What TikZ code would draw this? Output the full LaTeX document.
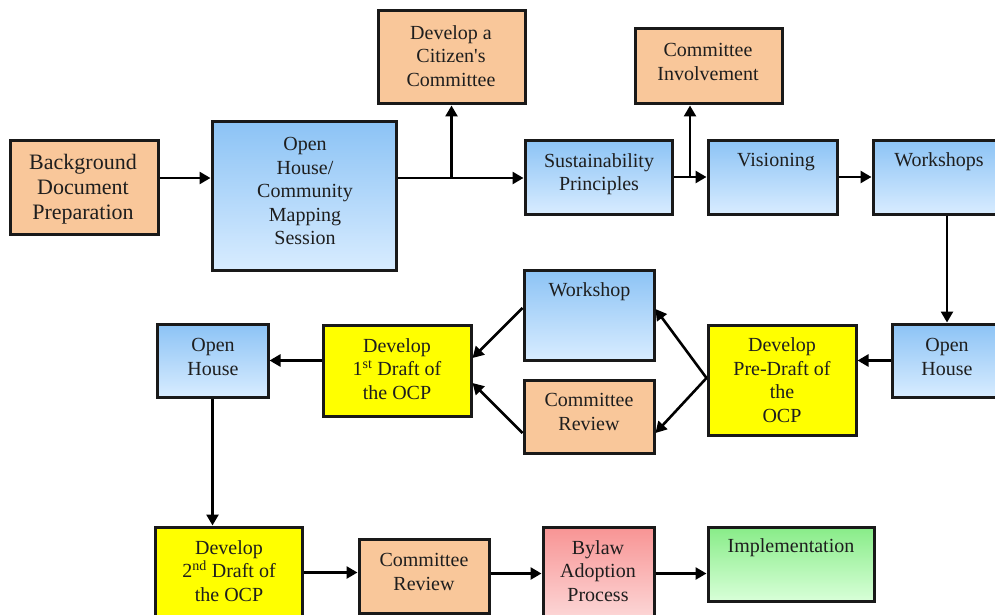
\documentclass[tikz,border=0pt]{standalone}
\usepackage{fontspec}
\setmainfont{Liberation Serif}
\usetikzlibrary{arrows.meta}
\definecolor{orng}{HTML}{F9C79A}
\definecolor{bluetop}{HTML}{8CC3F5}
\definecolor{bluebot}{HTML}{D8ECFF}
\definecolor{yel}{HTML}{FFFF00}
\definecolor{pinktop}{HTML}{F89494}
\definecolor{pinkbot}{HTML}{FCD8D8}
\definecolor{greentop}{HTML}{88EC88}
\definecolor{greenbot}{HTML}{D8FFD8}
\definecolor{txtc}{HTML}{1E1E1E}
\begin{document}
\begin{tikzpicture}[x=1pt,y=-1pt,
  sz/.style 2 args={minimum width=#1pt, minimum height=#2pt},
  box/.style={draw=black!90, line width=3pt, inner sep=0pt},
  orangebox/.style={box, fill=orng},
  bluebox/.style={box, top color=bluetop, bottom color=bluebot},
  yellowbox/.style={box, fill=yel},
  pinkbox/.style={box, top color=pinktop, bottom color=pinkbot},
  greenbox/.style={box, top color=greentop, bottom color=greenbot},
  txt/.style={align=center, text=txtc, inner sep=0pt, font=\fontsize{20}{23.5}\selectfont},
  bigtxt/.style={txt, font=\fontsize{22}{25}\selectfont},
  ln/.style={line width=2.6pt, draw=black},
  arr/.style={ln, -{Triangle[length=11pt,width=12pt]}}]
\path[use as bounding box] (0,0) rectangle (995,615);
\clip (0,0) rectangle (995,615);

% boxes
\node[orangebox, sz={148}{94}] (bg) at (84,187) {};
\node[bluebox, sz={184}{148}] (oh1) at (304,196) {};
\node[orangebox, sz={147}{93}] (cit) at (451.5,57.5) {};
\node[bluebox, sz={147}{74}] (sus) at (598.5,177) {};
\node[orangebox, sz={147}{75}] (ci) at (708.5,66.5) {};
\node[bluebox, sz={129}{74}] (vis) at (772.5,177) {};
\node[bluebox, sz={130}{74}] (ws) at (938,177) {};
\node[bluebox, sz={110}{73}] (oh2) at (947,360.5) {};
\node[yellowbox, sz={148}{110}] (pre) at (782,380) {};
\node[bluebox, sz={130}{90}] (wsh) at (589,315) {};
\node[orangebox, sz={130}{73}] (cr1) at (589,416.5) {};
\node[yellowbox, sz={148}{91}] (d1) at (397,370.5) {};
\node[bluebox, sz={111}{73}] (oh3) at (212.5,360.5) {};
\node[yellowbox, sz={147}{91}] (d2) at (228.5,572.5) {};
\node[orangebox, sz={130}{74}] (cr2) at (424,576) {};
\node[pinkbox, sz={111}{93}] (by) at (598.5,573.5) {};
\node[greenbox, sz={166}{74}] (imp) at (791,564) {};

% texts
\node[bigtxt] (tbg) at (83,189) {Background\\Document\\Preparation};
\node[txt] (toh1) at (305,191) {Open\\House/\\Community\\Mapping\\Session};
\node[txt] (tcit) at (451,56) {Develop a\\Citizen\textquotesingle s\\Committee};
\node[txt] (tci) at (708,62) {Committee\\Involvement};
\node[txt] (tsus) at (599,174) {Sustainability\\Principles};
\node[txt] (tvis) at (776,162) {Visioning};
\node[txt] (tws) at (939,162) {Workshops};
\node[txt] (toh2) at (947,357) {Open\\House};
\node[txt] (tpre) at (782,380) {Develop\\Pre-Draft of\\the\\OCP};
\node[txt] (twsh) at (589.5,292) {Workshop};
\node[txt] (tcr1) at (589,412) {Committee\\Review};
\node[txt] (td1) at (397,369) {Develop\\1\textsuperscript{st} Draft of\\the OCP};
\node[txt] (toh3) at (213,357) {Open\\House};
\node[txt] (td2) at (229,571) {Develop\\2\textsuperscript{nd} Draft of\\the OCP};
\node[txt] (tcr2) at (424,572) {Committee\\Review};
\node[txt] (tby) at (598,571) {Bylaw\\Adoption\\Process};
\node[txt] (timp) at (791,548) {Implementation};

% connectors
\coordinate (r1) at (0,178);
\coordinate (j2) at (690,177);
\draw[arr] (bg.east |- r1) -- (oh1.west |- r1);
\draw[arr] (oh1.east |- r1) -- (sus.west |- r1);
\draw[arr] (cit.south |- r1) -- (cit.south);
\draw[arr] (sus.east) -- (vis.west);
\draw[arr] (j2) -- (j2 |- ci.south);
\draw[arr] (vis.east) -- (ws.west);
\draw[arr] (oh2.north |- ws.south) -- (oh2.north);
\draw[arr] (oh2.west) -- (pre.east |- oh2.west);
\draw[arr] ([yshift=2pt]pre.west) -- ([yshift=6pt]wsh.east);
\draw[arr] ([yshift=2pt]pre.west) -- ([yshift=-16.5pt]cr1.east);
\draw[arr] ([yshift=7pt]wsh.west) -- ([yshift=12.5pt]d1.east);
\draw[arr] ([yshift=-16.5pt]cr1.west) -- ([yshift=-12.5pt]d1.east);
\draw[arr] (d1.west |- oh3.east) -- (oh3.east);
\draw[arr] (oh3.south) -- (oh3.south |- d2.north);
\draw[arr] (d2.east) -- (cr2.west |- d2.east);
\draw[arr] (cr2.east |- by.west) -- (by.west);
\draw[arr] (by.east) -- (imp.west |- by.east);
\end{tikzpicture}
\end{document}
